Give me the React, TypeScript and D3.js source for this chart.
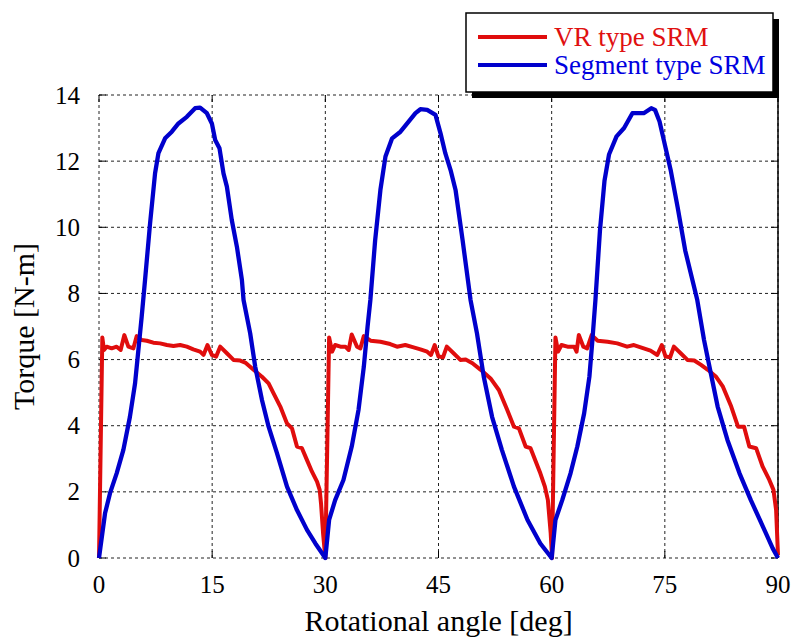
import React from "react";
import * as d3 from "d3";

// Torque vs rotational angle for two switched reluctance motor designs.
const xTicks = [0, 15, 30, 45, 60, 75, 90];
const yTicks = [0, 2, 4, 6, 8, 10, 12, 14];

const vrAngle = [
  0, 0.44, 0.66, 1.02, 1.68, 2.34, 2.87, 3.36, 3.89, 4.56, 5.0, 5.66, 6.33, 7.2, 8.1, 9.0, 9.87, 10.75, 11.64, 12.5,
  13.4, 13.85, 14.38, 14.96, 15.53, 16.06, 16.95, 17.83, 18.72, 19.38, 20.49, 21.6, 22.48, 23.14, 24.03, 24.92, 25.58,
  26.24, 26.9, 27.57, 28.23, 28.9, 29.25, 29.43, 29.7, 30.0,
  30.5, 30.9, 31.3, 32.0, 32.66, 33.1, 33.5, 34.2, 34.65, 35.1, 36.0, 37.3, 38.6, 39.5, 40.6, 41.7, 42.6, 43.5, 44.0,
  44.5, 45.0, 45.6, 46.1, 47.0, 47.9, 48.6, 49.5, 50.6, 51.9, 53.0, 54.1, 55.0, 55.66, 56.55, 57.2, 58.5, 59.1, 59.5,
  59.87, 60.05,
  60.5, 60.85, 61.3, 62.1, 63.0, 63.3, 63.6, 64.2, 64.7, 65.3, 66.1, 67.4, 68.7, 70.0, 70.9, 71.8, 73.1, 74.0, 74.6,
  75.1, 75.7, 76.2, 77.1, 78.0, 78.9, 79.8, 80.7, 81.8, 82.7, 83.8, 84.7, 85.5, 86.2, 87.1, 87.97, 88.85, 89.4, 89.75,
  90.0,
];
const vrTorque = [
  0, 6.67, 6.29, 6.39, 6.34, 6.39, 6.29, 6.74, 6.39, 6.34, 6.71, 6.59, 6.57, 6.51, 6.49, 6.44, 6.41, 6.44, 6.39, 6.31,
  6.24, 6.14, 6.44, 6.14, 6.09, 6.39, 6.19, 5.99, 5.97, 5.91, 5.69, 5.48, 5.28, 4.98, 4.58, 4.07, 3.92,
  3.37, 3.32, 2.96, 2.61, 2.31, 2.06, 1.65, 0.75, 0,
  6.67, 6.24, 6.44, 6.39, 6.39, 6.29, 6.76, 6.39, 6.34, 6.71, 6.57, 6.54, 6.47, 6.39, 6.44, 6.37, 6.31, 6.24, 6.14,
  6.44, 6.09, 6.07, 6.39, 6.19, 5.99, 6.0, 5.89, 5.69, 5.43, 5.08, 4.48, 3.97, 3.92, 3.37, 3.32, 2.56, 2.16, 1.75,
  0.75, 0,
  6.67, 6.24, 6.44, 6.39, 6.39, 6.24, 6.74, 6.39, 6.34, 6.74, 6.57, 6.54, 6.49, 6.39, 6.44, 6.37, 6.27, 6.14, 6.44,
  6.09, 6.07, 6.39, 6.19, 5.99, 5.97, 5.84, 5.69, 5.48, 5.18, 4.58, 3.97, 3.97, 3.37, 3.32, 2.76, 2.36, 2.06, 1.45,
  0.08,
];

const segAngle = [
  0, 0.8, 1.46, 2.34, 3.23, 4.1, 4.78, 5.22, 5.66, 6.1, 6.77, 7.43, 7.88, 8.76, 9.65, 10.53, 11.64, 12.74, 13.4, 14.3,
  14.96, 15.4, 15.97, 16.5, 16.95, 17.6, 18.28, 18.94, 19.16, 20.04, 20.71, 21.6, 22.48, 23.59, 24.92, 26.24, 27.57,
  28.68, 30.0,
  30.5, 31.3, 32.4, 33.5, 34.4, 35.1, 35.6, 35.97, 36.6, 37.3, 37.97, 38.85, 39.96, 40.85, 41.95, 42.6, 43.5, 44.6,
  45.27, 45.9, 46.6, 47.26, 48.2, 49.25, 50.1, 51.0, 52.1, 53.4, 55.0, 56.8, 58.5, 60.0,
  60.5, 61.4, 62.5, 63.4, 64.3, 65.0, 65.4, 65.8, 66.4, 67.0, 67.6, 68.6, 69.6, 70.7, 71.4, 72.2, 73.2, 73.7, 74.3,
  75.0, 75.8, 76.7, 77.7, 79.3, 80.2, 81.1, 82.0, 83.3, 84.9, 86.4, 88.0, 89.3, 90.0,
];
const segTorque = [
  0, 1.35, 1.96, 2.56, 3.27, 4.27, 5.28, 6.29, 7.3, 8.4, 10.12, 11.63, 12.24, 12.69, 12.89, 13.14, 13.34, 13.6, 13.62,
  13.45, 13.14, 12.64, 12.39, 11.63, 11.23, 10.22, 9.41, 8.41, 7.8, 6.79, 5.78, 4.78, 3.97, 3.17, 2.16, 1.45, 0.85,
  0.44, 0,
  1.15, 1.75, 2.36, 3.37, 4.48, 5.78, 7.0, 7.8, 9.6, 11.13, 12.14, 12.69, 12.89, 13.14, 13.45, 13.57, 13.55, 13.4,
  12.84, 12.24, 11.73, 11.13, 9.6, 7.8, 6.79, 5.48, 4.27, 3.27, 2.16, 1.15, 0.44, 0,
  1.15, 1.75, 2.56, 3.37, 4.37, 5.48, 6.59, 7.8, 9.9, 11.4, 12.2, 12.75, 13.0, 13.45, 13.45, 13.45, 13.6, 13.55, 13.2,
  12.5, 11.7, 10.6, 9.3, 7.8, 6.59, 5.58, 4.58, 3.57, 2.56, 1.75, 0.95, 0.29, 0,
];

const seriesNames = ["VR type SRM", "Segment type SRM"];
const seriesColors = ["#e00d0d", "#0000cc"];

const W = 794;
const H = 637;
const margin = { left: 99, right: 16, top: 95, bottom: 79 };
const FONT = "'Liberation Serif', 'Times New Roman', serif";

export default function App() {
  const x = d3.scaleLinear().domain([0, 90]).range([margin.left, W - margin.right]);
  const y = d3.scaleLinear().domain([0, 14]).range([H - margin.bottom, margin.top]);
  const [x0, x1] = x.range();
  const [y0, y1] = y.range();

  const makePath = (ax: number[], ty: number[]) =>
    d3
      .line<number>()
      .x((i) => x(ax[i]))
      .y((i) => y(ty[i]))(d3.range(ax.length)) || "";

  const vrPath = makePath(vrAngle, vrTorque);
  const segPath = makePath(segAngle, segTorque);

  const tickLen = 7;
  const lg = { x: 466, y: 13, w: 307, h: 79 };

  return (
    <svg
      width={W}
      height={H}
      style={{ position: "absolute", left: 0, top: 0, background: "#fff" }}
      fontFamily={FONT}
    >
      <rect x={0} y={0} width={W} height={H} fill="#fff" />
      {/* grid */}
      {xTicks.map((t) => (
        <line key={"gx" + t} x1={x(t)} x2={x(t)} y1={y0} y2={y1} stroke="#222" strokeWidth={1} strokeDasharray="3,3" />
      ))}
      {yTicks.map((t) => (
        <line key={"gy" + t} x1={x0} x2={x1} y1={y(t)} y2={y(t)} stroke="#222" strokeWidth={1} strokeDasharray="3,3" />
      ))}
      {/* frame */}
      <line x1={x1} x2={x1} y1={y0} y2={y1} stroke="#000" strokeWidth={1.5} />
      {/* ticks */}
      {xTicks.map((t) => (
        <g key={"tx" + t}>
          <line x1={x(t)} x2={x(t)} y1={y0} y2={y0 - tickLen} stroke="#000" strokeWidth={1} />
          <line x1={x(t)} x2={x(t)} y1={y1} y2={y1 + tickLen} stroke="#000" strokeWidth={1} />
          <text x={x(t)} y={y0 + 35} fontSize={25} textAnchor="middle" fill="#000">
            {t}
          </text>
        </g>
      ))}
      {yTicks.map((t) => (
        <g key={"ty" + t}>
          <line x1={x0} x2={x0 + tickLen} y1={y(t)} y2={y(t)} stroke="#000" strokeWidth={1} />
          <line x1={x1} x2={x1 - tickLen} y1={y(t)} y2={y(t)} stroke="#000" strokeWidth={1} />
          <text x={x0 - 19} y={y(t) + 8.5} fontSize={25} textAnchor="end" fill="#000">
            {t}
          </text>
        </g>
      ))}
      {/* series */}
      <path d={vrPath} fill="none" stroke={seriesColors[0]} strokeWidth={4} strokeLinejoin="round" />
      <path d={segPath} fill="none" stroke={seriesColors[1]} strokeWidth={4.3} strokeLinejoin="round" />
      {/* axis titles */}
      <text x={(x0 + x1) / 2} y={631} fontSize={30} textAnchor="middle" fill="#000">
        Rotational angle [deg]
      </text>
      <text
        transform={`translate(34, ${(y0 + y1) / 2}) rotate(-90)`}
        fontSize={30}
        textAnchor="middle"
        fill="#000"
      >
        Torque [N-m]
      </text>
      {/* legend */}
      <rect x={lg.x + 6} y={lg.y + 6} width={lg.w} height={lg.h} fill="#000" />
      <rect x={lg.x} y={lg.y} width={lg.w} height={lg.h} fill="#fff" stroke="#000" strokeWidth={1.5} />
      {seriesNames.map((name, i) => (
        <g key={name}>
          <line
            x1={lg.x + 12}
            x2={lg.x + 81}
            y1={lg.y + 24 + i * 28}
            y2={lg.y + 24 + i * 28}
            stroke={seriesColors[i]}
            strokeWidth={4}
          />
          <text x={lg.x + 88} y={lg.y + 33 + i * 28} fontSize={27} fill={i === 0 ? "#e01010" : "#0000e0"}>
            {name}
          </text>
        </g>
      ))}
    </svg>
  );
}
